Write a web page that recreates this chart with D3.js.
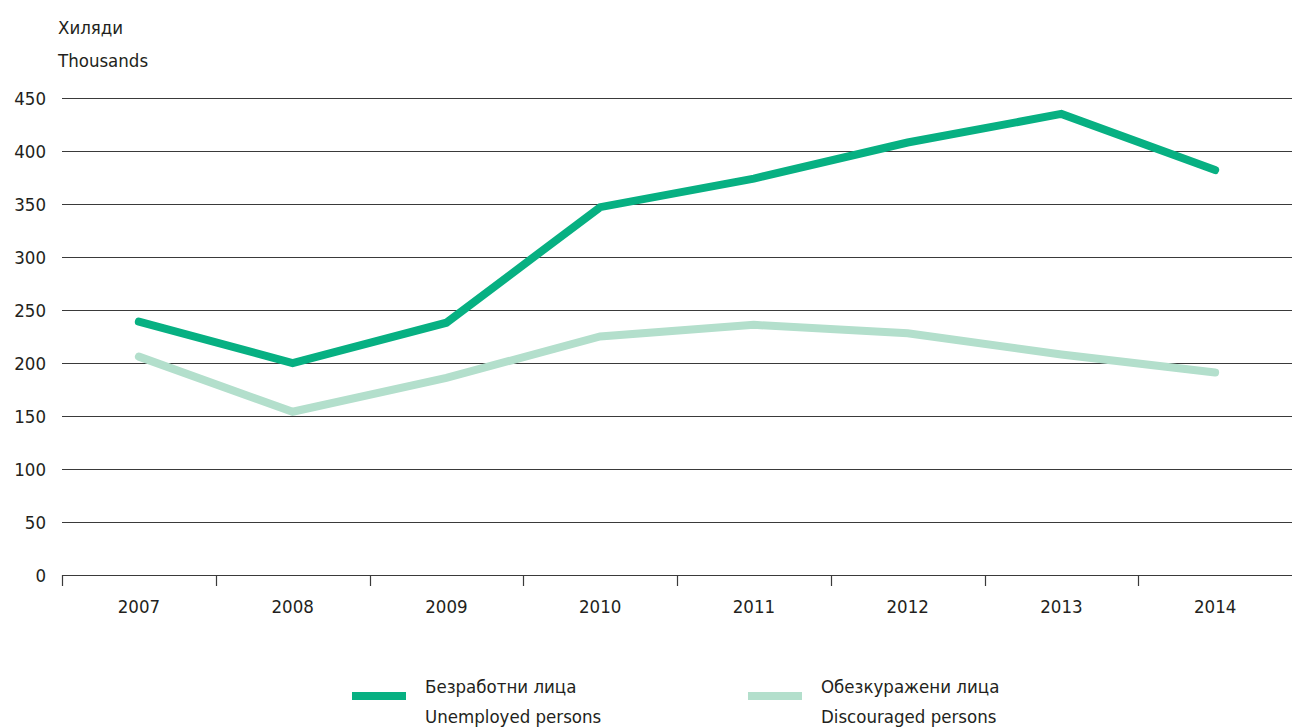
<!DOCTYPE html>
<html><head><meta charset="utf-8">
<script src="https://cdn.jsdelivr.net/npm/d3@7"></script>
<style>body{margin:0;background:#fff}svg text{font-family:"DejaVu Sans Condensed","Liberation Sans",sans-serif;fill:#231f20}</style>
</head><body><svg id="c" width="1293" height="727"></svg>
<script>
const years = ["2007","2008","2009","2010","2011","2012","2013","2014"];
const unemployed = [239, 200, 238, 347, 374, 408, 435, 382];
const discouraged = [206, 154, 186, 225, 236, 228, 208, 191];
const yTicks = [0,50,100,150,200,250,300,350,400,450];
const seriesNames = [["Безработни лица","Unemployed persons"],["Обезкуражени лица","Discouraged persons"]];
const colors = ["#07b082","#b3dfcc"];

const svg = d3.select("#c");
const x = d3.scaleBand().domain(years).range([62,1292]);
const y = d3.scaleLinear().domain([0,450]).range([575,98]);
const fs = 18.5;

svg.append("g").selectAll("line").data(yTicks.filter(d=>d>0)).join("line")
  .attr("x1",62).attr("x2",1292).attr("y1",d=>y(d)+0.5).attr("y2",d=>y(d)+0.5)
  .attr("stroke","#3a3a3a").attr("stroke-width",1.2);
svg.append("g").selectAll("text").data(yTicks).join("text")
  .attr("x",46).attr("y",d=>y(d)+7).attr("text-anchor","end").attr("font-size",fs).text(d=>d);
const xa = svg.append("g").attr("transform","translate(0,575.5)")
  .call(d3.axisBottom(x).tickSize(0).tickPadding(24));
xa.select(".domain").attr("stroke","#3a3a3a").attr("stroke-width",1.2).attr("d","M62,0H1292");
xa.selectAll("text").attr("font-size",fs).style("font-family",null).attr("fill","#231f20");
xa.selectAll(".tick line").remove();
svg.append("g").selectAll("line").data(years).join("line")
  .attr("x1",d=>Math.round(x(d))+0.5).attr("x2",d=>Math.round(x(d))+0.5)
  .attr("y1",575).attr("y2",586).attr("stroke","#3a3a3a").attr("stroke-width",1.2);

svg.append("text").attr("x",58).attr("y",34).attr("font-size",fs).text("Хиляди");
svg.append("text").attr("x",58).attr("y",67).attr("font-size",fs).text("Thousands");

const line = d3.line().x((d,i)=>x(years[i])+x.bandwidth()/2).y(d=>y(d));
svg.append("path").datum(discouraged).attr("d",line).attr("fill","none")
  .attr("stroke",colors[1]).attr("stroke-width",8).attr("stroke-linecap","round");
svg.append("path").datum(unemployed).attr("d",line).attr("fill","none")
  .attr("stroke",colors[0]).attr("stroke-width",8).attr("stroke-linecap","round");

const lx = [352,748];
seriesNames.forEach((n,i)=>{
  const g = svg.append("g");
  g.append("rect").attr("x",lx[i]).attr("y",692).attr("width",54).attr("height",8).attr("fill",colors[i]);
  g.append("text").attr("x",lx[i]+73).attr("y",693).attr("font-size",fs).text(n[0]);
  g.append("text").attr("x",lx[i]+73).attr("y",723).attr("font-size",fs).text(n[1]);
});
</script></body></html>
